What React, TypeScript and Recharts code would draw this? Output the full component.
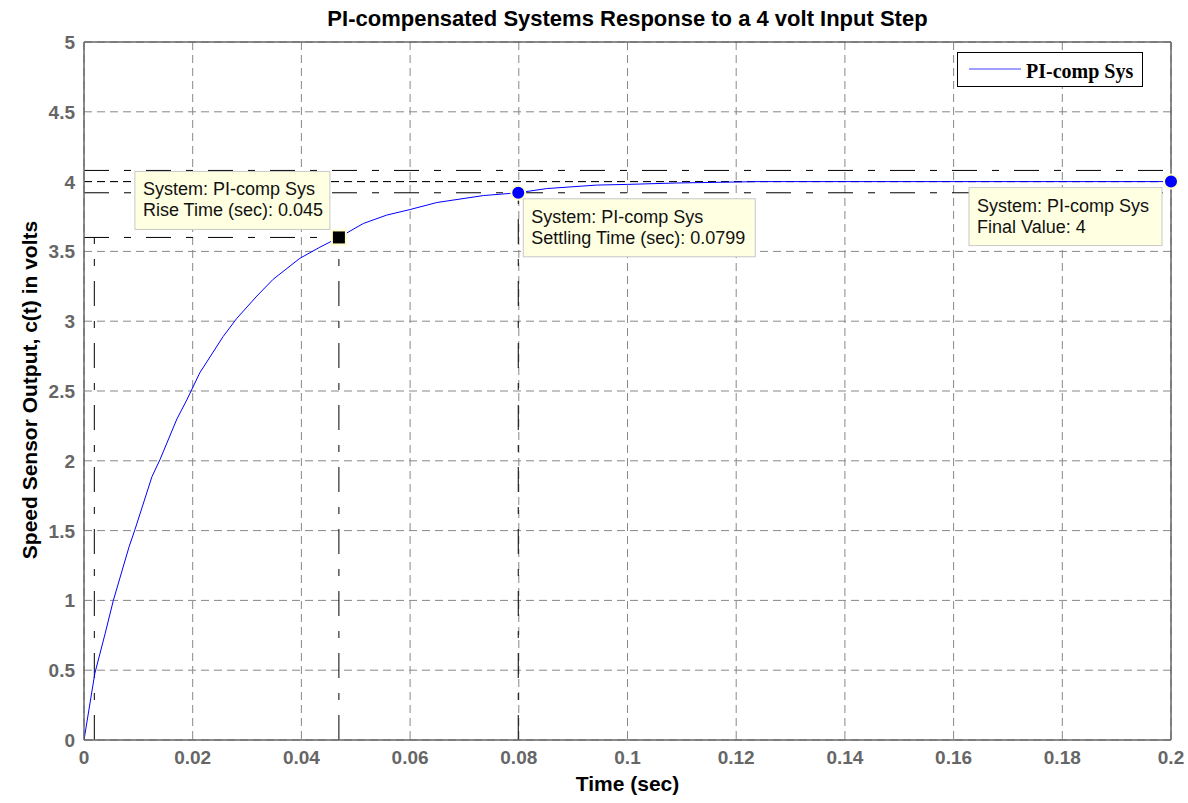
import { LineChart, Line, XAxis, YAxis, CartesianGrid, ReferenceLine, ReferenceDot } from "recharts";

// step response
const timeSec = [
  0, 0.002, 0.0039, 0.0054, 0.0083, 0.0094, 0.0125, 0.014, 0.0171, 0.0189, 0.0213, 0.0256, 0.0281, 0.0318,
  0.0348, 0.0397, 0.0434, 0.0469, 0.0514, 0.0557, 0.06, 0.0649, 0.0735, 0.0799, 0.0851, 0.0943, 0.1, 0.109,
  0.1244, 0.2,
];
const outputVolts = [
  0, 0.478, 0.764, 1.0, 1.385, 1.51, 1.886, 2.01, 2.3, 2.435, 2.63, 2.89, 3.02, 3.18, 3.3, 3.45, 3.53, 3.6,
  3.7, 3.76, 3.8, 3.85, 3.9, 3.92, 3.95, 3.975, 3.98, 3.99, 4.0, 4.0,
];

const xTicks = [0, 0.02, 0.04, 0.06, 0.08, 0.1, 0.12, 0.14, 0.16, 0.18, 0.2];
const yTicks = [0, 0.5, 1, 1.5, 2, 2.5, 3, 3.5, 4, 4.5, 5];

// characteristics
const riseLow = { t: 0.0019, v: 0.4 };
const riseHigh = { t: 0.0469, v: 3.6 };
const settling = { t: 0.0799, v: 3.92 };
const finalPoint = { t: 0.2, v: 4 };
const settleBand = [3.92, 4.08];

const riseTipLines = ["System: PI-comp Sys", "Rise Time (sec): 0.045"];
const settleTipLines = ["System: PI-comp Sys", "Settling Time (sec): 0.0799"];
const finalTipLines = ["System: PI-comp Sys", "Final Value: 4"];

const data = timeSec.map((t, i) => ({ t, v: outputVolts[i] }));

const gray = "#666";
const dashDot = "25 15 7 15";

function XTick({ x, y, payload }: any) {
  return (
    <text x={x} y={y + 22} textAnchor="middle" fill={gray} fontSize={19} fontWeight="bold" fontFamily="Liberation Sans, Arial">
      {payload.value}
    </text>
  );
}

function YTick({ x, y, payload }: any) {
  return (
    <text x={x - 7} y={y + 7} textAnchor="end" fill={gray} fontSize={19} fontWeight="bold" fontFamily="Liberation Sans, Arial">
      {payload.value}
    </text>
  );
}

function makeTip(lines: string[], marker: "square" | "circle", dx: number, dy: number, w: number) {
  return (props: any) => {
    const { cx, cy } = props;
    return (
      <g>
        {marker === "square" ? (
          <rect x={cx - 7} y={cy - 7} width={14} height={14} fill="#000" stroke="#ffffcc" strokeWidth={2} />
        ) : (
          <circle cx={cx} cy={cy} r={7} fill="#0000ff" stroke="#ffffcc" strokeWidth={2} />
        )}
        <rect x={cx + dx} y={cy + dy} width={w} height={58} fill="#ffffe1" stroke="#c8c8c8" strokeWidth={1} />
        {lines.map((s, i) => (
          <text key={i} x={cx + dx + 8} y={cy + dy + 24 + i * 21} fontSize={18} fill="#111" fontFamily="Liberation Sans, Arial">
            {s}
          </text>
        ))}
      </g>
    );
  };
}

const textStyle = { fontFamily: "Liberation Sans, Arial", fontWeight: "bold" as const, color: "#000" };

export default function App() {
  return (
    <div style={{ position: "absolute", left: 0, top: 0, width: 1188, height: 803, background: "#fff" }}>
      <LineChart width={1188} height={803} data={data} margin={{ top: 42, right: 17, bottom: 0, left: 0 }}>
        <CartesianGrid stroke="#888" strokeDasharray="8 5" strokeWidth={1} />
        <XAxis
          dataKey="t"
          type="number"
          domain={[0, 0.2]}
          ticks={xTicks}
          allowDataOverflow
          stroke={gray}
          strokeWidth={1.5}
          tickLine={false}
          tickSize={0}
          tick={<XTick />}
          height={63}
        />
        <YAxis
          type="number"
          domain={[0, 5]}
          ticks={yTicks}
          allowDataOverflow
          stroke={gray}
          strokeWidth={1.5}
          tickLine={false}
          tickSize={0}
          tick={<YTick />}
          width={84}
        />
        <ReferenceLine y={5} stroke={gray} strokeWidth={1.5} />
        <ReferenceLine x={0.2} stroke={gray} strokeWidth={1.5} />
        <ReferenceLine y={settleBand[1]} stroke="#000" strokeDasharray={dashDot} />
        <ReferenceLine y={settleBand[0]} stroke="#000" strokeDasharray={dashDot} />
        <ReferenceLine y={finalPoint.v} stroke="#000" strokeDasharray="8 5" />
        <ReferenceLine segment={[{ x: 0, y: riseHigh.v }, { x: riseHigh.t, y: riseHigh.v }]} stroke="#000" strokeDasharray={dashDot} />
        <ReferenceLine segment={[{ x: riseLow.t, y: 0 }, { x: riseLow.t, y: riseHigh.v }]} stroke="#000" strokeDasharray={dashDot} />
        <ReferenceLine segment={[{ x: riseHigh.t, y: 0 }, { x: riseHigh.t, y: riseHigh.v }]} stroke="#000" strokeDasharray={dashDot} />
        <ReferenceLine segment={[{ x: settling.t, y: 0 }, { x: settling.t, y: settling.v }]} stroke="#000" strokeDasharray={dashDot} />
        <Line type="linear" dataKey="v" name="PI-comp Sys" stroke="#0000ff" strokeWidth={1} dot={false} isAnimationActive={false} />
        <ReferenceDot x={riseHigh.t} y={riseHigh.v} r={7} shape={makeTip(riseTipLines, "square", -204, -66, 195)} />
        <ReferenceDot x={settling.t} y={settling.v} r={7} shape={makeTip(settleTipLines, "circle", 5, 6, 232)} />
        <ReferenceDot x={finalPoint.t} y={finalPoint.v} r={7} shape={makeTip(finalTipLines, "circle", -202, 6, 193)} />
      </LineChart>
      <svg width={186} height={35} style={{ position: "absolute", left: 957, top: 52 }}>
        <rect x={0.5} y={0.5} width={185} height={34} fill="#fff" stroke="#000" strokeWidth={1} />
        <line x1={12} y1={17} x2={64} y2={17} stroke="#7f7fff" strokeWidth={1.5} />
        <text x={69} y={26} fontSize={20} fontWeight="bold" fontFamily="Liberation Serif, Times New Roman" fill="#000">
          PI-comp Sys
        </text>
      </svg>
      <div style={{ ...textStyle, position: "absolute", left: 84, width: 1087, top: 6, textAlign: "center", fontSize: 22 }}>
        PI-compensated Systems Response to a 4 volt Input Step
      </div>
      <div style={{ ...textStyle, position: "absolute", left: 84, width: 1087, top: 772, textAlign: "center", fontSize: 21 }}>
        Time (sec)
      </div>
      <div
        style={{
          ...textStyle,
          position: "absolute",
          left: 30 - 200,
          top: 391 - 13,
          width: 400,
          textAlign: "center",
          transform: "rotate(-90deg)",
          fontSize: 21,
        }}
      >
        Speed Sensor Output, c(t) in volts
      </div>
    </div>
  );
}
